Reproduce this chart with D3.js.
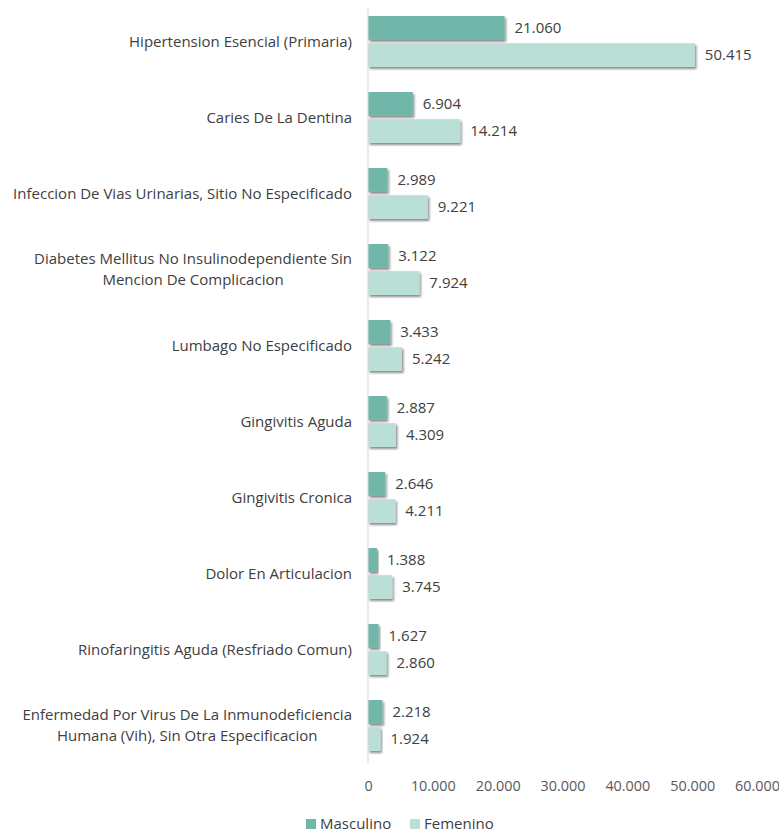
<!DOCTYPE html>
<html>
<head>
<meta charset="utf-8">
<script src="https://cdn.jsdelivr.net/npm/d3@7"></script>
<style>
  body { margin: 0; background: #fff; }
  text { font-family: "Open Sans", Lato, sans-serif; }
</style>
</head>
<body>
<div id="chart"></div>
<script>
const categories = [
  ['Hipertension Esencial (Primaria)'],
  ['Caries De La Dentina'],
  ['Infeccion De Vias Urinarias, Sitio No Especificado'],
  ['Diabetes Mellitus No Insulinodependiente Sin', 'Mencion De Complicacion'],
  ['Lumbago No Especificado'],
  ['Gingivitis Aguda'],
  ['Gingivitis Cronica'],
  ['Dolor En Articulacion'],
  ['Rinofaringitis Aguda (Resfriado Comun)'],
  ['Enfermedad Por Virus De La Inmunodeficiencia', 'Humana (Vih), Sin Otra Especificacion']
];
const masculino = [21060, 6904, 2989, 3122, 3433, 2887, 2646, 1388, 1627, 2218];
const femenino = [50415, 14214, 9221, 7924, 5242, 4309, 4211, 3745, 2860, 1924];
const ticks = [0, 10000, 20000, 30000, 40000, 50000, 60000];
const seriesNames = ['Masculino', 'Femenino'];
const colors = ['#70b7a9', '#badfd7'];

const width = 779, height = 835;
const margin = {top: 3, right: 22, bottom: 72, left: 368};
const fontSize = 15;
const lineGap = 21;
const labelRight = margin.left - 16;

const locale = d3.formatLocale({decimal: ',', thousands: '.', grouping: [3], currency: ['', '']});
const fmt = locale.format(',d');

const svg = d3.select('#chart').append('svg')
  .attr('width', width)
  .attr('height', height);

const defs = svg.append('defs');
const f = defs.append('filter').attr('id', 'shadow')
  .attr('x', '-10%').attr('y', '-20%').attr('width', '130%').attr('height', '160%');
f.append('feDropShadow').attr('dx', 1.5).attr('dy', 2).attr('stdDeviation', 1.2)
  .attr('flood-color', '#000').attr('flood-opacity', 0.45);

const x = d3.scaleLinear().domain([0, 60000]).range([margin.left, width - margin.right]);
const y = d3.scaleBand().domain(d3.range(categories.length))
  .range([margin.top, height - margin.bottom]);
const inner = d3.scaleBand().domain([0, 1]).range([13, 64]).paddingInner(0.12);

const rows = categories.map((c, i) => ({i, label: c, values: [masculino[i], femenino[i]]}));

const g = svg.append('g');

const group = g.selectAll('g.row').data(rows).join('g')
  .attr('class', 'row')
  .attr('transform', d => `translate(0,${y(d.i)})`);

group.selectAll('rect').data(d => d.values.map((v, k) => ({v, k}))).join('rect')
  .attr('x', x(0))
  .attr('y', d => inner(d.k))
  .attr('width', d => x(d.v) - x(0))
  .attr('height', inner.bandwidth())
  .attr('fill', d => colors[d.k])
  .attr('filter', 'url(#shadow)');

group.selectAll('text.val').data(d => d.values.map((v, k) => ({v, k}))).join('text')
  .attr('class', 'val')
  .attr('x', d => x(d.v) + 10)
  .attr('y', d => inner(d.k) + inner.bandwidth() / 2)
  .attr('dy', '0.35em')
  .attr('font-size', fontSize)
  .attr('fill', '#404040')
  .text(d => fmt(d.v));

// category labels: block right-aligned, lines centred inside the block
group.each(function(d) {
  const n = d.label.length;
  const t = d3.select(this).append('text')
    .attr('class', 'cat')
    .attr('font-size', fontSize)
    .attr('fill', '#404040')
    .attr('text-anchor', 'middle');
  const spans = d.label.map((line, j) => t.append('tspan')
    .attr('y', y.bandwidth() / 2 + 0.5 + (j - (n - 1) / 2) * lineGap)
    .attr('dy', '0.35em')
    .text(line));
  const w = d3.max(spans, s => s.node().getComputedTextLength());
  spans.forEach(s => s.attr('x', labelRight - w / 2));
});

// axis line
g.append('line')
  .attr('x1', x(0)).attr('x2', x(0))
  .attr('y1', y.range()[0] + 5).attr('y2', y.range()[1])
  .attr('stroke', '#d9d9d9').attr('stroke-width', 1);

const axis = d3.axisBottom(x).tickValues(ticks).tickSize(0).tickPadding(0)
  .tickFormat(d => fmt(d));
const ax = svg.append('g').attr('transform', `translate(0,${height - margin.bottom + 18})`).call(axis);
ax.select('.domain').remove();
ax.selectAll('text').attr('font-size', 14.4).attr('fill', '#595959')
  .attr('font-family', '"Open Sans", Lato, sans-serif');

// legend
const legend = svg.append('g').attr('transform', `translate(0,${height - 11})`);
const lx = [306, 410];
seriesNames.forEach((name, k) => {
  legend.append('rect').attr('x', lx[k]).attr('y', -5).attr('width', 10).attr('height', 10)
    .attr('fill', colors[k]);
  legend.append('text').attr('x', lx[k] + 14).attr('y', 0).attr('dy', '0.35em')
    .attr('font-size', fontSize).attr('fill', '#404040').text(name);
});
</script>
</body>
</html>
